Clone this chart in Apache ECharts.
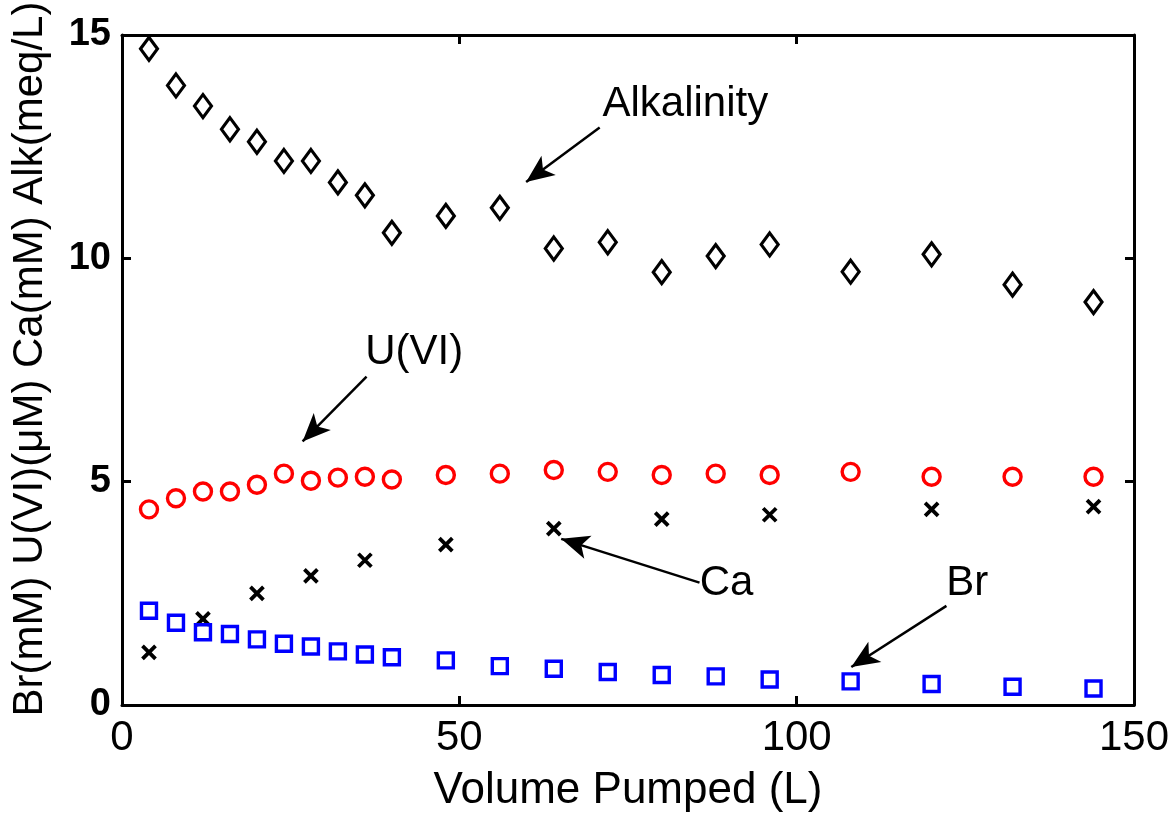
<!DOCTYPE html>
<html>
<head>
<meta charset="utf-8">
<script src="https://cdn.jsdelivr.net/npm/echarts@6/dist/echarts.min.js"></script>
<style>
html,body{margin:0;padding:0;background:#fff;}
#chart{width:1173px;height:818px;}
</style>
</head>
<body>
<div id="chart"></div>
<script>
// ---- data ----
const xTicks = [0, 50, 100, 150];
const yTicks = [0, 5, 10, 15];

const alkVolume = [4, 8, 12, 16, 20, 24, 28, 32, 36, 40, 48, 56, 64, 72, 80, 88, 96, 108, 120, 132, 144];
const alkValues = [14.69, 13.87, 13.41, 12.89, 12.61, 12.18, 12.18, 11.70, 11.41, 10.57, 10.95, 11.13, 10.22, 10.36, 9.69, 10.05, 10.31, 9.70, 10.09, 9.41, 9.02];

const uVolume = [4, 8, 12, 16, 20, 24, 28, 32, 36, 40, 48, 56, 64, 72, 80, 88, 96, 108, 120, 132, 144];
const uValues = [4.38, 4.63, 4.78, 4.78, 4.93, 5.18, 5.02, 5.09, 5.11, 5.05, 5.15, 5.18, 5.26, 5.22, 5.15, 5.18, 5.15, 5.22, 5.11, 5.11, 5.11];

const caVolume = [4, 12, 20, 28, 36, 48, 64, 80, 96, 120, 144];
const caValues = [1.18, 1.93, 2.50, 2.89, 3.24, 3.59, 3.95, 4.16, 4.26, 4.38, 4.44];

const brVolume = [4, 8, 12, 16, 20, 24, 28, 32, 36, 40, 48, 56, 64, 72, 80, 88, 96, 108, 120, 132, 144];
const brValues = [2.11, 1.84, 1.63, 1.59, 1.47, 1.37, 1.31, 1.20, 1.13, 1.07, 1.00, 0.87, 0.81, 0.74, 0.67, 0.64, 0.57, 0.53, 0.47, 0.41, 0.37];

// annotation labels (data coordinates)
const labelNames = ['Alkalinity', 'U(VI)', 'Ca', 'Br'];
const labelX = [83.5, 43.3, 89.6, 125.3];
const labelY = [13.44, 7.9, 2.72, 2.72];
// arrows: from (fromX, fromY) to tip (toX, toY), data coordinates
const arrowFromX = [70.8, 36.25, 85.6, 122.2];
const arrowFromY = [12.93, 7.35, 2.74, 2.22];
const arrowToX = [59.9, 26.77, 65.1, 108.1];
const arrowToY = [11.71, 5.90, 3.72, 0.85];

const xAxisName = 'Volume Pumped (L)';
const yAxisName = 'Br(mM) U(VI)(\u03bcM) Ca(mM) Alk(meq/L)';

// ---- build ----
const zip = (xs, ys) => xs.map((x, i) => [x, ys[i]]);
const FONT = "'Liberation Sans', Arial, Helvetica, sans-serif";

const axisCommon = {
  min: xTicks[0], max: xTicks[xTicks.length - 1], interval: xTicks[1] - xTicks[0],
  axisLine: { show: true, onZero: false, lineStyle: { color: '#000', width: 3 } },
  axisTick: { show: true, inside: true, length: 9, lineStyle: { color: '#000', width: 3 } },
  splitLine: { show: false }
};
const yCommon = {
  min: yTicks[0], max: yTicks[yTicks.length - 1], interval: yTicks[1] - yTicks[0],
  axisLine: { show: true, onZero: false, lineStyle: { color: '#000', width: 3 } },
  axisTick: { show: true, inside: true, length: 9, lineStyle: { color: '#000', width: 3 } },
  splitLine: { show: false }
};

const hollow = (color, width) => ({ color: 'rgba(0,0,0,0)', borderColor: color, borderWidth: width, opacity: 1 });

const option = {
  animation: false,
  backgroundColor: '#fff',
  grid: { left: 122, right: 39, top: 35, bottom: 108, containLabel: false },
  xAxis: [
    Object.assign({}, axisCommon, {
      type: 'value', position: 'bottom',
      name: xAxisName, nameLocation: 'middle', nameGap: 64,
      nameTextStyle: { fontFamily: FONT, fontSize: 44, color: '#000' },
      axisLabel: { show: true, margin: 12, fontFamily: FONT, fontSize: 42, color: '#000' }
    }),
    Object.assign({}, axisCommon, {
      type: 'value', position: 'top', axisLabel: { show: false }
    })
  ],
  yAxis: [
    Object.assign({}, yCommon, {
      type: 'value', position: 'left',
      name: yAxisName, nameLocation: 'middle', nameGap: 71, nameRotate: 90,
      nameTextStyle: { fontFamily: FONT, fontSize: 42, color: '#000', padding: [0, 0, 0, 22] },
      axisLabel: { show: true, margin: 11, fontFamily: FONT, fontSize: 38, fontWeight: 'bold', color: '#000' }
    }),
    Object.assign({}, yCommon, {
      type: 'value', position: 'right', axisLabel: { show: false }
    })
  ],
  series: [
    {
      name: 'Alkalinity', type: 'scatter', data: zip(alkVolume, alkValues),
      symbol: 'diamond', symbolSize: [17, 23],
      itemStyle: hollow('#000', 3.2), z: 3
    },
    {
      name: 'U(VI)', type: 'scatter', data: zip(uVolume, uValues),
      symbol: 'circle', symbolSize: 17,
      itemStyle: hollow('#ff0000', 3.4), z: 3
    },
    {
      name: 'Ca', type: 'scatter', data: zip(caVolume, caValues),
      symbol: 'path://M0,0L10,10M10,0L0,10', symbolSize: 13,
      itemStyle: hollow('#000', 3.8), z: 3
    },
    {
      name: 'Br', type: 'scatter', data: zip(brVolume, brValues),
      symbol: 'rect', symbolSize: 15,
      itemStyle: hollow('#0000ff', 3.4), z: 3
    },
    {
      name: 'annotations', type: 'scatter',
      data: labelNames.map((n, i) => ({ name: n, value: [labelX[i], labelY[i]] })),
      symbolSize: 1, itemStyle: { color: 'rgba(0,0,0,0)', opacity: 1 }, silent: true,
      label: { show: true, position: 'inside', formatter: '{b}', fontFamily: FONT, fontSize: 42, color: '#000', opacity: 1 }
    },
    {
      name: 'arrows', type: 'scatter', data: [],
      itemStyle: { color: '#000', opacity: 1 }, silent: true,
      markLine: {
        silent: true, animation: false,
        symbol: ['none', 'arrow'], symbolSize: [18, 28],
        lineStyle: { color: '#000', width: 2.5, type: 'solid', opacity: 1 },
        itemStyle: { color: '#000' },
        label: { show: false },
        emphasis: { disabled: true },
        data: labelNames.map((n, i) => [
          { coord: [arrowFromX[i], arrowFromY[i]] },
          { coord: [arrowToX[i], arrowToY[i]] }
        ])
      }
    }
  ]
};

const chart = echarts.init(document.getElementById('chart'), null, { renderer: 'canvas' });
chart.setOption(option);
</script>
</body>
</html>
